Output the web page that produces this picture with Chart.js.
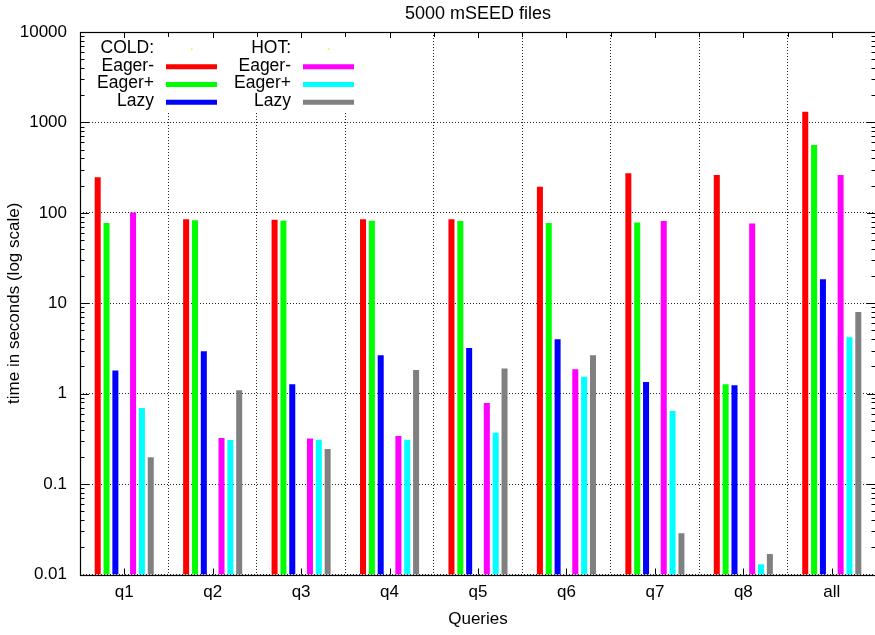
<!DOCTYPE html>
<html><head><meta charset="utf-8">
<script src="https://cdn.jsdelivr.net/npm/chart.js@4/dist/chart.umd.min.js"></script>
<style>html,body{margin:0;padding:0;overflow:hidden;background:#fff;width:875px;height:635px}canvas{display:block}</style>
</head><body>
<canvas id="c" width="880" height="635"></canvas>
<script>
const categories = ['q1','q2','q3','q4','q5','q6','q7','q8','all'];
const coldEagerMinus = [248, 85, 84, 85, 85, 194, 274, 262, 1316];
const coldEagerPlus  = [77, 83, 82, 82, 81, 77, 78, 1.27, 564];
const coldLazy       = [1.8, 2.94, 1.27, 2.66, 3.2, 4.0, 1.35, 1.24, 18.4];
const hotEagerMinus  = [101, 0.324, 0.32, 0.34, 0.79, 1.86, 81, 76, 262];
const hotEagerPlus   = [0.695, 0.308, 0.31, 0.31, 0.37, 1.54, 0.644, 0.013, 4.21];
const hotLazy        = [0.198, 1.09, 0.245, 1.83, 1.9, 2.66, 0.0286, 0.0169, 8.01];
const spacer         = [null, null, null, null, null, null, null, null, null];
const yTickLabels = ['0.01','0.1','1','10','100','1000','10000'];
const titleText = '5000 mSEED files';
const xTitle = 'Queries';
const yTitle = 'time in seconds (log scale)';
const legendCold = ['COLD:', 'Eager-', 'Eager+', 'Lazy'];
const legendHot  = ['HOT:', 'Eager-', 'Eager+', 'Lazy'];

const FONT = "'Liberation Sans', Arial, sans-serif";
const FS = 17;
const GRID = 'rgba(0,0,0,0.85)';
const COLORS = ['#ff0000', '#00ff00', '#0000ff', 'rgba(0,0,0,0)', '#ff00ff', '#00ffff', '#808080'];

const majorValues = yTickLabels.map(Number);
const allTicks = [];
for (let i = 0; i < majorValues.length; i++) {
  allTicks.push({value: majorValues[i], major: true});
  if (i < majorValues.length - 1) {
    for (let m = 2; m <= 9; m++) allTicks.push({value: Number((m * majorValues[i]).toPrecision(12)), major: false});
  }
}

Chart.defaults.font.family = FONT;
Chart.defaults.font.size = FS;
Chart.defaults.color = '#000';

const decor = {
  id: 'decor',
  afterDatasetsDraw(chart) {
    const {ctx, chartArea: a, scales: {x, y}} = chart;
    ctx.save();
    // key box
    ctx.fillStyle = '#fff';
    ctx.fillRect(a.left + 1, a.top + 1, 282, 78);
    ctx.font = '17.5px ' + FONT;
    ctx.textAlign = 'right';
    ctx.textBaseline = 'alphabetic';
    ctx.fillStyle = '#000';
    const rows = [48.9, 66.7, 84.5, 102.3];
    const cols = [{tx: 154, lx0: 166, lx1: 217, labels: legendCold, ds: [null, 0, 1, 2]},
                  {tx: 291, lx0: 303, lx1: 354, labels: legendHot, ds: [null, 4, 5, 6]}];
    cols.forEach(col => {
      col.labels.forEach((lab, r) => {
        ctx.fillStyle = '#000';
        ctx.fillText(lab, col.tx, rows[r] + 3.8);
        if (col.ds[r] === null) {
          ctx.fillStyle = '#eeee00';
          ctx.fillRect((col.lx0 + col.lx1) / 2 - 0.5, rows[r] - 0.5, 1.5, 1.5);
        } else {
          ctx.strokeStyle = COLORS[col.ds[r]];
          ctx.lineWidth = 5;
          ctx.beginPath();
          ctx.moveTo(col.lx0, rows[r]);
          ctx.lineTo(col.lx1, rows[r]);
          ctx.stroke();
        }
      });
    });
    // ticks
    ctx.strokeStyle = '#000';
    ctx.lineWidth = 1;
    ctx.beginPath();
    y.ticks.forEach(t => {
      const py = Math.round(y.getPixelForValue(t.value)) + 0.5;
      const len = t.major ? 9 : 4.5;
      ctx.moveTo(a.left, py); ctx.lineTo(a.left + len, py);
      ctx.moveTo(a.right, py); ctx.lineTo(a.right - len, py);
    });
    for (let i = 0; i < categories.length; i++) {
      const px = Math.round(x.getPixelForTick(i)) + 0.5;
      ctx.moveTo(px, a.bottom); ctx.lineTo(px, a.bottom - 6);
      ctx.moveTo(px, a.top); ctx.lineTo(px, a.top + 6);
      if (i < categories.length - 1) {
        const bx = Math.round((x.getPixelForTick(i) + x.getPixelForTick(i + 1)) / 2) + 0.5;
        ctx.moveTo(bx, a.top); ctx.lineTo(bx, a.top + 5);
      }
    }
    ctx.stroke();
    // border
    ctx.lineWidth = 1.2;
    ctx.strokeRect(Math.round(a.left) + 0.5, Math.round(a.top) + 0.5, Math.round(a.right - a.left), Math.round(a.bottom - a.top));
    // title
    ctx.font = '18px ' + FONT;
    ctx.textAlign = 'center';
    ctx.textBaseline = 'middle';
    ctx.fillStyle = '#000';
    ctx.fillText(titleText, (a.left + a.right) / 2, 14);
    ctx.restore();
  }
};

const seriesData = [coldEagerMinus, coldEagerPlus, coldLazy, spacer, hotEagerMinus, hotEagerPlus, hotLazy];
const seriesNames = ['COLD Eager-', 'COLD Eager+', 'COLD Lazy', 'HOT:', 'HOT Eager-', 'HOT Eager+', 'HOT Lazy'];

new Chart(document.getElementById('c'), {
  type: 'bar',
  data: {
    labels: categories,
    datasets: seriesData.map((d, i) => ({
      label: seriesNames[i],
      data: d,
      backgroundColor: COLORS[i],
      borderWidth: 0,
      categoryPercentage: 0.70,
      barPercentage: 0.68
    }))
  },
  options: {
    responsive: false,
    animation: false,
    devicePixelRatio: 1,
    layout: {padding: {top: 32, right: 4, left: 0, bottom: 0}},
    plugins: {legend: {display: false}, tooltip: {enabled: false}, title: {display: false}},
    scales: {
      x: {
        grid: {offset: true, color: GRID, drawTicks: false, lineWidth: 1},
        border: {display: false, dash: [1, 2]},
        ticks: {padding: 7.5, autoSkip: false, maxRotation: 0},
        title: {display: true, text: xTitle, padding: {top: 0, bottom: 5}},
        afterFit: s => { s.height = 60.5; }
      },
      y: {
        type: 'logarithmic',
        min: 0.01,
        max: 10000,
        grid: {color: c => (c.tick && c.tick.major) ? GRID : 'rgba(0,0,0,0)', drawTicks: false, lineWidth: 1},
        border: {display: false, dash: [1, 2]},
        afterBuildTicks: s => { s.ticks = allTicks.map(t => ({value: t.value, major: t.major})); },
        ticks: {
          padding: 13,
          autoSkip: false,
          callback: function(v) {
            const idx = majorValues.indexOf(v);
            return idx >= 0 ? yTickLabels[idx] : '';
          }
        },
        title: {display: true, text: yTitle, padding: {top: 4, bottom: 0}},
        afterFit: s => { s.width = 80; }
      }
    }
  },
  plugins: [decor]
});
</script>
</body></html>
